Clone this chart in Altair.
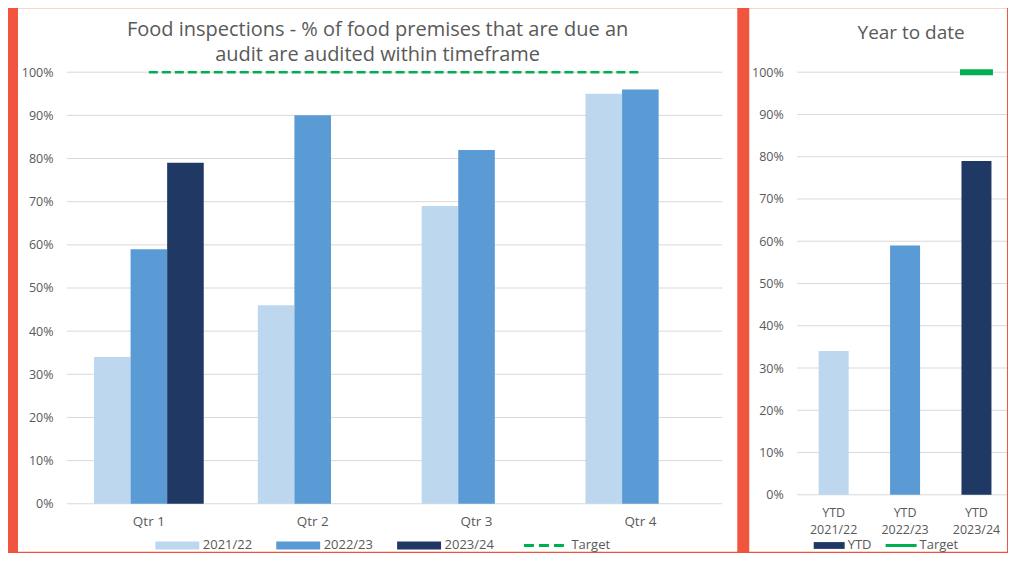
import altair as alt
import pandas as pd

# ---------------- data ----------------
quarters = ["Qtr 1", "Qtr 2", "Qtr 3", "Qtr 4"]
series_names = ["2021/22", "2022/23", "2023/24"]
values_2021_22 = [34, 46, 69, 95]
values_2022_23 = [59, 90, 82, 96]
values_2023_24 = [79, None, None, None]
target_values = [100, 100, 100, 100]

ytd_categories = ["YTD 2021/22", "YTD 2022/23", "YTD 2023/24"]
ytd_values = [34, 59, 79]
ytd_target = [None, None, 100]

y_ticks = [0, 10, 20, 30, 40, 50, 60, 70, 80, 90, 100]

left_title = ["Food inspections - %  of food premises that are due an",
              "audit are audited within timeframe"]
right_title = "Year to date"

# ---------------- style ----------------
C_LIGHT = "#BDD7EE"
C_MID = "#5B9BD5"
C_DARK = "#203864"
C_GREEN = "#00B050"
C_RED = "#F1543F"
C_GRID = "#D9D9D9"
C_TEXT = "#595959"
FONT = "Open Sans"

W1, H1 = 656, 432
W2, H2 = 210, 423
TOP = -64
BOTTOM = 480

# ---------------- tables ----------------
rows = []
for s, vals in zip(series_names, [values_2021_22, values_2022_23, values_2023_24]):
    for q, v in zip(quarters, vals):
        if v is not None:
            rows.append({"quarter": q, "series": s, "value": v})
bars_df = pd.DataFrame(rows)
target_df = pd.DataFrame({"quarter": quarters, "series": ["Target"] * len(quarters),
                          "value": target_values})
panel_df = pd.DataFrame({"p": [0]})
grid_df = pd.DataFrame({"value": y_ticks})

ytd_df = pd.DataFrame({"cat": ytd_categories, "series": series_names, "value": ytd_values})
ytd_t_rows = [{"cat": c, "legend": "Target", "value": v}
              for c, v in zip(ytd_categories, ytd_target) if v is not None]
ytd_target_df = pd.DataFrame(ytd_t_rows)


def y_enc():
    return alt.Y("value:Q", scale=alt.Scale(domain=[0, 100], nice=False),
                 axis=alt.Axis(title=None, values=y_ticks, labelExpr="datum.value + '%'",
                               domain=False, ticks=False, labelPadding=14,
                               labelFontSize=12.5, labelColor=C_TEXT, labelFont=FONT,
                               grid=False, zindex=1))


def grid_layer():
    return alt.Chart(grid_df).mark_rule(color=C_GRID, strokeWidth=1).encode(y=y_enc())


# ---------------- left panel ----------------
color_left = alt.Scale(domain=series_names + ["Target"],
                       range=[C_LIGHT, C_MID, C_DARK, C_GREEN])

left_legend = alt.Legend(
    title=None, orient="none", legendX=88, legendY=467, direction="horizontal",
    columns=4, columnPadding=23, symbolSize=1936, symbolOffset=16, labelOffset=19,
    labelFontSize=13, labelColor=C_TEXT, labelFont=FONT,
    symbolType={"expr": "datum.value === 'Target' ? 'M-1,0L1,0' : 'M-1,-0.18L1,-0.18L1,0.18L-1,0.18Z'"},
    symbolFillColor={"expr": "datum.value === '2021/22' ? '%s' : datum.value === '2022/23' ? '%s' : datum.value === '2023/24' ? '%s' : 'transparent'" % (C_LIGHT, C_MID, C_DARK)},
    symbolStrokeColor={"expr": "datum.value === 'Target' ? '%s' : 'transparent'" % C_GREEN},
    symbolStrokeWidth={"expr": "datum.value === 'Target' ? 3 : 0"},
    symbolDash={"expr": "datum.value === 'Target' ? [10, 5] : [1, 0]"},
    symbolOpacity=1,
)

panel_left = alt.Chart(panel_df).mark_rect(color="white").encode(
    x=alt.value(-49), x2=alt.value(W1 + 15), y=alt.value(TOP), y2=alt.value(BOTTOM))

x_left = alt.X("quarter:N",
               scale=alt.Scale(domain=quarters, paddingInner=0.33, paddingOuter=0.165),
               axis=alt.Axis(title=None, labelAngle=0, domain=False, ticks=False,
                             labelPadding=11, labelFontSize=13.5, labelColor=C_TEXT,
                             labelFont=FONT, grid=False, zindex=1))

bars_left = alt.Chart(bars_df).mark_bar().encode(
    x=x_left,
    xOffset=alt.XOffset("series:N", scale=alt.Scale(domain=series_names,
                                                   paddingInner=0, paddingOuter=0)),
    y=y_enc(),
    color=alt.Color("series:N", scale=color_left, legend=left_legend),
)

target_left = alt.Chart(target_df).mark_line(strokeDash=[9, 4], strokeWidth=2.5).encode(
    x=alt.X("quarter:N"),
    y=y_enc(),
    color=alt.Color("series:N", scale=color_left, legend=left_legend),
)

left = alt.layer(panel_left, grid_layer(), bars_left, target_left).properties(
    width=W1, height=H1,
    title=alt.TitleParams(left_title, fontSize=20, font=FONT, color=C_TEXT,
                          fontWeight="normal", anchor="middle", frame="bounds",
                          offset=-56.5, lineHeight=24.5),
)

# ---------------- right panel ----------------
right_legend = alt.Legend(
    title=None, orient="none", legendX=16, legendY=467, direction="horizontal",
    columns=2, columnPadding=7, symbolSize=961, symbolOffset=9.5, labelOffset=12,
    labelFontSize=13, labelColor=C_TEXT, labelFont=FONT,
    symbolType={"expr": "datum.value === 'Target' ? 'M-1,0L1,0' : 'M-1,-0.22L1,-0.22L1,0.22L-1,0.22Z'"},
    symbolFillColor={"expr": "datum.value === 'YTD' ? '%s' : 'transparent'" % C_DARK},
    symbolStrokeColor={"expr": "datum.value === 'Target' ? '%s' : 'transparent'" % C_GREEN},
    symbolStrokeWidth={"expr": "datum.value === 'Target' ? 3 : 0"},
    symbolOpacity=1,
)

panel_right = alt.Chart(panel_df).mark_rect(color="white").encode(
    x=alt.value(-48), x2=alt.value(W2), y=alt.value(TOP), y2=alt.value(BOTTOM))

x_right = alt.X("cat:N",
                scale=alt.Scale(domain=ytd_categories, paddingInner=0.58,
                                paddingOuter=0.259, align=0.58),
                axis=alt.Axis(title=None, labelAngle=0, domain=False, ticks=False,
                              labelPadding=12, labelFontSize=12.5, labelColor=C_TEXT,
                              labelFont=FONT, labelExpr="split(datum.label, ' ')",
                              labelLineHeight=17, grid=False, zindex=1))

bars_right = alt.Chart(ytd_df).mark_bar().encode(
    x=x_right,
    y=y_enc(),
    fill=alt.Fill("series:N", scale=alt.Scale(domain=series_names,
                                              range=[C_LIGHT, C_MID, C_DARK]),
                  legend=None),
)

target_right = alt.Chart(ytd_target_df).mark_tick(thickness=6, size=33, opacity=1).encode(
    x=alt.X("cat:N"),
    y=y_enc(),
    color=alt.Color("legend:N", scale=alt.Scale(domain=["YTD", "Target"],
                                                range=[C_DARK, C_GREEN]),
                    legend=right_legend),
)

right = alt.layer(panel_right, grid_layer(), bars_right, target_right).properties(
    width=W2, height=H2,
    title=alt.TitleParams(right_title, fontSize=19, font=FONT, color=C_TEXT,
                          fontWeight="normal", anchor="middle", frame="group",
                          dx=9, offset=-35),
)

chart = alt.hconcat(left, right, spacing=12).resolve_scale(
    color="independent", x="independent", y="independent"
).resolve_legend(color="independent").properties(
    background=C_RED,
    padding={"left": 10, "top": 0, "right": 0, "bottom": 0},
).configure_view(stroke=None)

chart.save("out.html", embed_options={"renderer": "svg", "actions": False})
